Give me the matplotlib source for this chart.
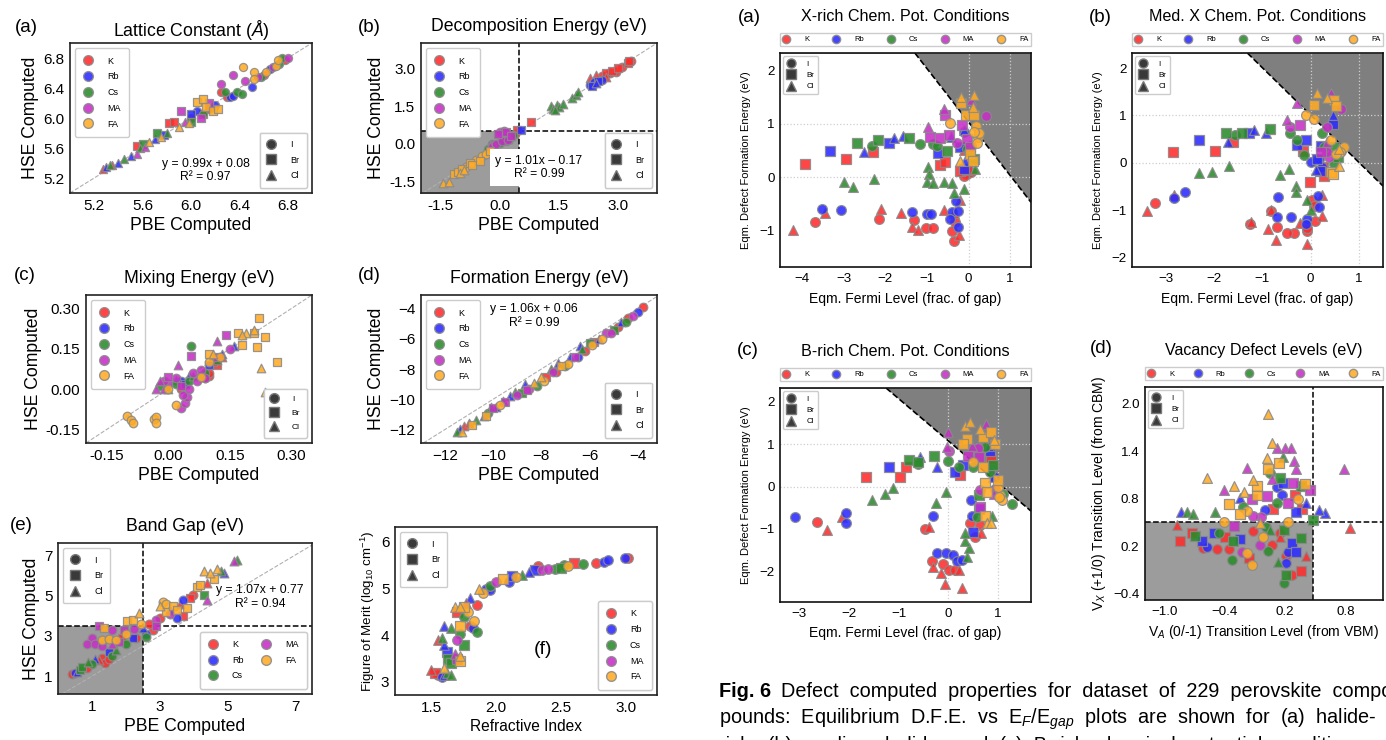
import matplotlib
matplotlib.use('Agg')
import matplotlib.pyplot as plt
from matplotlib.lines import Line2D

plt.rcParams['font.family'] = ['Liberation Sans', 'DejaVu Sans']
plt.rcParams['mathtext.fontset'] = 'custom'
plt.rcParams['mathtext.rm'] = 'Liberation Sans'
plt.rcParams['mathtext.it'] = 'Liberation Sans:italic'
plt.rcParams['mathtext.bf'] = 'Liberation Sans:bold'
plt.rcParams['axes.unicode_minus'] = True

# ---------------------------------------------------------------- data
cations = ['K', 'Rb', 'Cs', 'MA', 'FA']
halides = ['I', 'Br', 'Cl']

# (PBE, HSE, cation, halide)
lattice = [
    (5.27, 5.32, 'K', 'Cl'), (5.30, 5.35, 'Rb', 'Cl'), (5.33, 5.38, 'Cs', 'Cl'), (5.35, 5.38, 'K', 'Cl'),
    (5.40, 5.40, 'Rb', 'Cl'), (5.45, 5.45, 'Cs', 'Cl'), (5.50, 5.50, 'Rb', 'Cl'), (5.55, 5.52, 'MA', 'Cl'),
    (5.58, 5.60, 'Cs', 'Cl'), (5.62, 5.62, 'MA', 'Cl'), (5.65, 5.68, 'FA', 'Cl'), (5.70, 5.72, 'Rb', 'Cl'),
    (5.75, 5.75, 'FA', 'Cl'), (5.80, 5.80, 'Cs', 'Cl'), (5.90, 5.88, 'FA', 'Cl'), (5.95, 5.95, 'MA', 'Cl'),
    (5.98, 5.93, 'FA', 'Cl'),
    (5.55, 5.63, 'K', 'Br'), (5.60, 5.65, 'Cs', 'Br'), (5.72, 5.80, 'Cs', 'Br'), (5.78, 5.78, 'Rb', 'Br'),
    (5.82, 5.93, 'K', 'Br'), (5.86, 5.95, 'K', 'Br'), (5.92, 6.10, 'MA', 'Br'), (6.00, 6.05, 'Rb', 'Br'),
    (6.05, 6.22, 'FA', 'Br'), (6.10, 6.25, 'FA', 'Br'), (6.12, 6.15, 'FA', 'Br'), (6.18, 6.10, 'FA', 'Br'),
    (6.22, 6.12, 'FA', 'Br'), (6.10, 6.05, 'K', 'Br'), (6.15, 6.20, 'MA', 'Br'), (6.00, 5.95, 'Cs', 'Br'),
    (6.08, 6.00, 'MA', 'Br'),
    (6.00, 6.00, 'K', 'I'), (6.05, 6.10, 'Rb', 'I'), (6.10, 6.05, 'Cs', 'I'), (6.15, 6.12, 'K', 'I'),
    (6.20, 6.18, 'Rb', 'I'), (6.25, 6.35, 'K', 'I'), (6.25, 6.45, 'MA', 'I'), (6.28, 6.35, 'Cs', 'I'),
    (6.32, 6.28, 'Rb', 'I'), (6.35, 6.58, 'MA', 'I'), (6.38, 6.35, 'Cs', 'I'), (6.42, 6.32, 'Cs', 'I'),
    (6.43, 6.68, 'FA', 'I'), (6.45, 6.50, 'MA', 'I'), (6.50, 6.42, 'Rb', 'I'), (6.52, 6.62, 'FA', 'I'),
    (6.52, 6.52, 'FA', 'I'), (6.55, 6.55, 'MA', 'I'), (6.58, 6.55, 'Cs', 'I'), (6.62, 6.62, 'FA', 'I'),
    (6.65, 6.65, 'Rb', 'I'), (6.68, 6.68, 'MA', 'I'), (6.70, 6.70, 'FA', 'I'), (6.73, 6.72, 'Cs', 'I'),
    (6.75, 6.80, 'Cs', 'I'), (6.78, 6.78, 'K', 'I'), (6.80, 6.80, 'MA', 'I'), (6.72, 6.78, 'FA', 'I'),
    (6.60, 6.58, 'K', 'I'), (6.35, 6.30, 'Rb', 'I'), (6.30, 6.28, 'K', 'I'),
]

decomp = [
    (-1.45, -1.55, 'FA', 'Cl'), (-1.30, -1.50, 'FA', 'Cl'), (-1.15, -1.20, 'FA', 'Br'), (-1.05, -1.10, 'FA', 'Br'),
    (-0.95, -1.00, 'FA', 'Br'), (-0.85, -0.90, 'FA', 'I'), (-0.75, -0.75, 'FA', 'Br'), (-0.70, -0.85, 'FA', 'Br'),
    (-0.60, -0.65, 'FA', 'I'), (-0.50, -0.70, 'FA', 'Br'), (-0.45, -0.50, 'FA', 'I'), (-0.35, -0.40, 'FA', 'I'),
    (-1.00, -1.15, 'FA', 'Cl'), (-0.90, -1.05, 'FA', 'Cl'), (-0.25, -0.30, 'FA', 'Br'),
    (-0.20, -0.10, 'MA', 'I'), (-0.10, 0.00, 'MA', 'I'), (0.00, 0.45, 'MA', 'I'), (0.10, 0.50, 'MA', 'I'),
    (0.15, 0.45, 'MA', 'Br'), (-0.05, 0.40, 'MA', 'Br'), (0.05, 0.10, 'MA', 'I'), (-0.25, -0.10, 'MA', 'Cl'),
    (0.20, 0.15, 'MA', 'I'), (0.30, 0.30, 'MA', 'Br'),
    (-0.30, -0.20, 'Cs', 'I'), (-0.15, -0.05, 'Cs', 'Br'), (0.00, 0.05, 'Cs', 'I'), (0.20, 0.20, 'Cs', 'Cl'),
    (0.35, 0.35, 'Cs', 'I'), (1.30, 1.50, 'Cs', 'Cl'), (1.35, 1.40, 'Cs', 'Cl'), (1.45, 1.55, 'Cs', 'Cl'),
    (1.50, 1.45, 'Cs', 'Cl'), (1.60, 1.60, 'Cs', 'Cl'), (1.85, 1.80, 'Cs', 'Cl'), (1.95, 1.95, 'Cs', 'Cl'),
    (2.00, 2.05, 'Cs', 'Cl'), (1.40, 1.35, 'Cs', 'Cl'),
    (-0.20, 0.00, 'Rb', 'I'), (0.10, 0.10, 'Rb', 'Br'), (0.25, 0.25, 'Rb', 'I'), (0.55, 0.55, 'Rb', 'Br'),
    (2.30, 2.35, 'Rb', 'I'), (2.40, 2.45, 'Rb', 'I'), (2.50, 2.50, 'Rb', 'Br'), (2.60, 2.55, 'Rb', 'I'),
    (2.35, 2.30, 'Rb', 'Br'), (2.45, 2.40, 'Rb', 'Cl'),
    (0.40, 0.40, 'K', 'I'), (0.45, 0.55, 'K', 'Br'), (0.80, 0.85, 'K', 'Br'), (2.30, 2.60, 'K', 'Cl'),
    (2.45, 2.75, 'K', 'Cl'), (2.60, 2.70, 'K', 'I'), (2.70, 2.80, 'K', 'Br'), (2.80, 2.80, 'K', 'I'),
    (2.85, 2.90, 'K', 'Br'), (2.95, 2.85, 'K', 'I'), (3.00, 3.00, 'K', 'Br'), (3.10, 3.05, 'K', 'I'),
    (3.25, 3.20, 'K', 'Br'), (3.35, 3.30, 'K', 'I'), (3.30, 3.30, 'K', 'Br'), (2.70, 2.65, 'K', 'Cl'),
]

mixing = [
    (-0.100, -0.100, 'FA', 'I'), (-0.090, -0.115, 'FA', 'I'), (-0.085, -0.125, 'FA', 'I'), (-0.035, -0.110, 'FA', 'I'),
    (-0.030, -0.105, 'FA', 'I'), (-0.030, -0.125, 'FA', 'I'), (0.020, -0.060, 'FA', 'I'), (0.000, 0.000, 'FA', 'I'),
    (0.080, 0.045, 'FA', 'I'), (0.125, 0.120, 'FA', 'I'), (0.100, 0.100, 'FA', 'I'),
    (0.170, 0.210, 'FA', 'Br'), (0.210, 0.210, 'FA', 'Br'), (0.220, 0.265, 'FA', 'Br'), (0.235, 0.195, 'FA', 'Br'),
    (0.215, 0.155, 'FA', 'Br'), (0.180, 0.165, 'FA', 'Br'), (0.265, 0.100, 'FA', 'Br'), (0.100, 0.130, 'FA', 'Br'),
    (0.225, 0.080, 'FA', 'Cl'), (0.235, -0.010, 'FA', 'Cl'), (0.190, 0.210, 'FA', 'Cl'), (0.180, 0.200, 'FA', 'Cl'),
    (0.210, 0.220, 'FA', 'Cl'), (0.110, 0.130, 'FA', 'Cl'),
    (0.030, -0.070, 'MA', 'I'), (0.040, -0.050, 'MA', 'I'), (0.045, -0.030, 'MA', 'I'), (0.035, -0.020, 'MA', 'I'),
    (0.050, 0.000, 'MA', 'I'), (0.070, 0.030, 'MA', 'I'), (0.150, 0.150, 'MA', 'I'), (0.020, 0.040, 'MA', 'I'),
    (0.060, 0.060, 'MA', 'I'), (0.080, 0.070, 'MA', 'I'), (0.000, 0.020, 'MA', 'I'), (-0.010, 0.030, 'MA', 'I'),
    (0.090, 0.040, 'MA', 'I'),
    (0.055, 0.125, 'MA', 'Br'), (0.140, 0.200, 'MA', 'Br'), (0.000, 0.045, 'MA', 'Br'), (0.030, 0.010, 'MA', 'Br'),
    (0.120, 0.120, 'MA', 'Br'),
    (-0.030, 0.000, 'MA', 'Cl'), (-0.020, 0.030, 'MA', 'Cl'), (0.025, 0.090, 'MA', 'Cl'), (0.120, 0.180, 'MA', 'Cl'),
    (-0.010, 0.000, 'MA', 'Cl'),
    (0.055, 0.160, 'Cs', 'I'), (0.020, 0.020, 'Cs', 'I'), (0.050, 0.030, 'Cs', 'I'), (0.090, 0.060, 'Cs', 'I'),
    (-0.020, 0.010, 'Cs', 'I'), (0.080, 0.050, 'Cs', 'I'), (0.000, 0.000, 'Cs', 'Cl'), (0.060, 0.050, 'Cs', 'Cl'),
    (0.120, 0.110, 'Cs', 'Cl'),
    (0.030, 0.030, 'Rb', 'I'), (0.040, 0.020, 'Rb', 'Br'), (0.020, 0.035, 'Rb', 'Cl'), (0.050, 0.050, 'Rb', 'Cl'),
    (0.100, 0.090, 'Rb', 'Br'), (0.160, 0.160, 'Rb', 'Cl'), (0.130, 0.130, 'Rb', 'Cl'),
    (0.100, 0.050, 'K', 'I'), (0.090, 0.040, 'K', 'I'), (0.120, 0.090, 'K', 'Br'), (0.110, 0.100, 'K', 'Br'),
    (0.030, 0.000, 'K', 'I'), (0.040, 0.020, 'K', 'Cl'), (0.130, 0.120, 'K', 'Cl'), (0.100, 0.060, 'K', 'I'),
]

formation = [
    (-11.5, -12.2, 'Cs', 'Cl'), (-11.4, -12.0, 'Rb', 'Cl'), (-11.3, -12.2, 'FA', 'Cl'), (-11.2, -11.8, 'K', 'Cl'),
    (-11.0, -11.6, 'K', 'Cl'), (-10.9, -11.7, 'FA', 'Br'), (-10.7, -11.4, 'Cs', 'Cl'), (-10.4, -11.1, 'Rb', 'Cl'),
    (-10.3, -11.1, 'FA', 'Br'), (-10.2, -10.9, 'Cs', 'I'), (-10.1, -10.5, 'Cs', 'Cl'), (-10.0, -10.6, 'MA', 'Br'),
    (-9.9, -10.5, 'Rb', 'Cl'), (-9.7, -10.4, 'FA', 'I'), (-9.5, -10.2, 'MA', 'Br'), (-9.3, -9.8, 'Rb', 'Cl'),
    (-9.1, -9.5, 'Cs', 'Cl'), (-9.0, -9.7, 'MA', 'I'), (-8.8, -9.6, 'Cs', 'Br'), (-8.7, -9.0, 'Rb', 'Cl'),
    (-8.6, -9.4, 'MA', 'Br'), (-8.5, -9.3, 'MA', 'I'), (-8.3, -8.9, 'FA', 'Cl'), (-8.2, -9.1, 'Cs', 'I'),
    (-8.0, -8.5, 'FA', 'Cl'), (-7.9, -8.8, 'FA', 'I'), (-7.8, -8.5, 'K', 'Br'), (-7.6, -8.0, 'Cs', 'Cl'),
    (-7.5, -8.2, 'MA', 'I'), (-7.4, -8.2, 'K', 'I'), (-7.3, -7.6, 'Rb', 'Cl'), (-7.2, -7.8, 'FA', 'Br'),
    (-7.0, -7.8, 'Cs', 'I'), (-6.9, -7.7, 'FA', 'I'), (-6.8, -7.2, 'Rb', 'Cl'), (-6.6, -7.2, 'MA', 'Br'),
    (-6.5, -7.2, 'Rb', 'I'), (-6.3, -6.7, 'Cs', 'Cl'), (-6.2, -6.8, 'K', 'I'), (-6.0, -6.3, 'Cs', 'Br'),
    (-5.9, -6.4, 'FA', 'I'), (-5.8, -6.2, 'K', 'Br'), (-5.6, -6.0, 'Rb', 'Cl'), (-5.5, -6.0, 'FA', 'I'),
    (-5.3, -5.6, 'MA', 'I'), (-5.1, -5.6, 'MA', 'I'), (-5.0, -5.4, 'Cs', 'Br'), (-4.8, -5.2, 'K', 'I'),
    (-4.7, -4.9, 'Rb', 'Cl'), (-4.5, -4.9, 'Cs', 'I'), (-4.4, -4.6, 'K', 'I'), (-4.2, -4.5, 'MA', 'I'),
    (-4.0, -4.2, 'Rb', 'I'), (-3.8, -3.9, 'K', 'I'), (-6.4, -6.5, 'Rb', 'Cl'), (-9.6, -10.1, 'Cs', 'Cl'),
]

bandgap = [
    (0.40, 1.10, 'K', 'I'), (0.50, 1.15, 'Rb', 'I'), (0.55, 1.20, 'Rb', 'Cl'), (0.65, 1.30, 'Cs', 'Br'),
    (0.70, 1.45, 'Cs', 'Br'), (0.85, 1.40, 'K', 'I'), (0.90, 1.70, 'Cs', 'Cl'), (1.00, 1.60, 'Cs', 'I'),
    (1.10, 1.85, 'Rb', 'Cl'), (1.20, 1.80, 'K', 'Cl'), (1.30, 1.90, 'K', 'I'), (1.40, 1.65, 'K', 'I'),
    (1.50, 1.85, 'K', 'I'), (1.50, 2.20, 'Rb', 'Br'), (1.60, 2.00, 'Cs', 'I'), (1.70, 2.30, 'Cs', 'Cl'),
    (1.80, 2.70, 'MA', 'Br'), (1.60, 2.60, 'MA', 'Cl'), (1.90, 2.90, 'K', 'Br'), (2.00, 2.60, 'Cs', 'I'),
    (2.20, 2.90, 'Rb', 'Br'), (2.00, 3.10, 'FA', 'I'), (1.00, 2.90, 'MA', 'I'), (0.85, 2.60, 'MA', 'I'),
    (1.10, 2.60, 'MA', 'I'), (1.30, 2.50, 'MA', 'I'), (1.30, 2.80, 'FA', 'I'), (1.50, 2.85, 'FA', 'I'),
    (1.70, 2.80, 'FA', 'I'), (1.20, 3.50, 'MA', 'Br'), (1.35, 3.40, 'FA', 'Br'), (1.60, 3.30, 'MA', 'I'),
    (1.95, 3.30, 'MA', 'Br'), (2.05, 3.75, 'FA', 'Br'), (2.20, 3.80, 'FA', 'Br'), (2.25, 3.35, 'MA', 'I'),
    (2.45, 3.60, 'FA', 'I'), (2.50, 3.40, 'Rb', 'Cl'), (2.40, 4.15, 'FA', 'Cl'), (2.60, 3.10, 'Rb', 'I'),
    (2.60, 2.95, 'Cs', 'I'), (2.80, 3.30, 'K', 'I'), (2.90, 3.50, 'MA', 'Br'), (3.00, 3.90, 'K', 'I'),
    (3.00, 4.50, 'FA', 'Cl'), (3.10, 4.70, 'FA', 'I'), (3.20, 4.20, 'FA', 'Br'), (3.20, 4.60, 'FA', 'I'),
    (3.30, 4.10, 'MA', 'I'), (3.40, 4.50, 'FA', 'Br'), (3.50, 4.30, 'FA', 'Br'), (3.50, 3.90, 'Rb', 'I'),
    (3.60, 4.60, 'K', 'Cl'), (3.70, 4.80, 'Rb', 'I'), (3.80, 4.40, 'FA', 'Br'), (3.90, 4.90, 'K', 'Br'),
    (4.00, 5.00, 'K', 'I'), (4.10, 5.40, 'FA', 'Br'), (4.20, 5.50, 'FA', 'Br'), (4.30, 5.00, 'Cs', 'Br'),
    (4.40, 5.60, 'K', 'Cl'), (4.40, 4.80, 'MA', 'Cl'), (4.30, 6.20, 'FA', 'Cl'), (4.50, 6.10, 'FA', 'Cl'),
    (4.60, 5.80, 'FA', 'Br'), (4.80, 6.20, 'Cs', 'Cl'), (4.90, 6.10, 'Rb', 'Cl'), (5.20, 6.70, 'MA', 'Cl'),
    (5.30, 6.75, 'Cs', 'Cl'), (4.70, 6.30, 'FA', 'Cl'), (3.70, 4.00, 'K', 'Br'), (2.70, 3.60, 'K', 'I'),
    (2.30, 2.90, 'K', 'I'), (3.30, 4.30, 'Rb', 'Cl'), (2.90, 3.80, 'MA', 'I'),
]

# (refractive index, figure of merit)
refractive = [
    (1.50, 3.25, 'K', 'Cl'), (1.53, 3.20, 'K', 'Br'), (1.55, 3.15, 'K', 'I'), (1.58, 3.10, 'Rb', 'I'),
    (1.60, 3.15, 'Rb', 'Cl'), (1.62, 3.20, 'Cs', 'Cl'), (1.65, 3.15, 'Cs', 'Cl'), (1.60, 3.30, 'FA', 'Cl'),
    (1.55, 3.90, 'K', 'Cl'), (1.58, 3.95, 'Cs', 'Cl'), (1.60, 3.80, 'Rb', 'Cl'), (1.62, 3.65, 'Rb', 'Br'),
    (1.63, 3.50, 'Cs', 'Br'), (1.65, 3.40, 'Cs', 'Br'), (1.68, 3.60, 'MA', 'Cl'), (1.70, 3.50, 'MA', 'Br'),
    (1.72, 3.45, 'FA', 'Br'), (1.72, 3.55, 'FA', 'Cl'), (1.70, 3.90, 'MA', 'I'), (1.72, 4.02, 'Cs', 'I'),
    (1.75, 3.80, 'Cs', 'Br'), (1.60, 4.20, 'Rb', 'Cl'), (1.65, 4.15, 'Cs', 'Cl'), (1.68, 4.60, 'FA', 'Cl'),
    (1.72, 4.60, 'FA', 'Cl'), (1.70, 4.50, 'K', 'Br'), (1.75, 4.40, 'Cs', 'I'), (1.75, 4.60, 'FA', 'Br'),
    (1.78, 4.50, 'FA', 'I'), (1.72, 4.20, 'FA', 'Br'), (1.80, 4.20, 'K', 'I'), (1.82, 4.15, 'Rb', 'I'),
    (1.83, 4.30, 'FA', 'I'), (1.85, 4.08, 'Cs', 'I'), (1.80, 4.80, 'Rb', 'Cl'), (1.85, 4.65, 'K', 'I'),
    (1.87, 5.00, 'FA', 'Cl'), (1.90, 4.90, 'FA', 'I'), (1.92, 5.00, 'Rb', 'I'), (1.95, 5.05, 'Cs', 'I'),
    (2.00, 5.15, 'MA', 'I'), (2.05, 5.20, 'FA', 'Br'), (2.10, 5.15, 'Rb', 'I'), (2.12, 5.28, 'Rb', 'Br'),
    (2.15, 5.25, 'FA', 'I'), (2.20, 5.30, 'Cs', 'Cl'), (2.25, 5.35, 'Rb', 'Cl'), (2.30, 5.40, 'Rb', 'Br'),
    (2.32, 5.48, 'K', 'I'), (2.35, 5.40, 'MA', 'I'), (2.40, 5.42, 'MA', 'I'), (2.45, 5.42, 'Cs', 'I'),
    (2.50, 5.45, 'Cs', 'Br'), (2.52, 5.50, 'Cs', 'I'), (2.60, 5.55, 'K', 'Br'), (2.67, 5.52, 'Cs', 'I'),
    (2.77, 5.55, 'K', 'I'), (2.83, 5.57, 'Rb', 'I'), (2.86, 5.62, 'Rb', 'I'), (2.99, 5.65, 'Rb', 'I'),
    (3.02, 5.66, 'K', 'I'), (2.55, 5.48, 'FA', 'I'), (1.95, 4.98, 'Rb', 'I'), (1.77, 4.70, 'MA', 'Cl'),
]

# (Fermi level / gap, defect formation energy)
xrich = [
    (-3.93, 0.24, 'K', 'Br'), (-2.94, 0.33, 'K', 'Br'), (-3.32, 0.49, 'Rb', 'Br'), (-2.68, 0.64, 'Cs', 'Br'),
    (-2.33, 0.58, 'Cs', 'I'), (-2.30, 0.47, 'K', 'Br'), (-2.52, 0.47, 'Rb', 'Cl'), (-2.17, 0.69, 'Cs', 'Br'),
    (-1.92, 0.64, 'Rb', 'Br'), (-1.79, 0.73, 'Rb', 'Cl'), (-1.57, 0.76, 'Rb', 'Cl'), (-1.43, 0.73, 'Cs', 'Br'),
    (-1.17, 0.61, 'Cs', 'I'), (-0.98, 0.94, 'MA', 'Cl'), (-0.93, 0.75, 'MA', 'Br'), (-0.85, 0.61, 'Cs', 'I'),
    (-0.75, 0.58, 'Cs', 'I'), (-0.69, 0.73, 'MA', 'Br'), (-0.73, 0.45, 'Rb', 'Br'), (-0.52, 0.49, 'Cs', 'Br'),
    (-0.58, 1.28, 'MA', 'Cl'), (-0.56, 1.17, 'MA', 'Br'), (-0.45, 1.02, 'FA', 'I'), (-0.48, 0.78, 'MA', 'Br'),
    (-0.42, 0.75, 'Rb', 'Cl'), (-0.69, 0.22, 'K', 'Br'), (-0.57, 0.29, 'K', 'Br'), (-0.98, 0.19, 'Cs', 'Cl'),
    (-0.95, 0.05, 'Cs', 'Cl'), (-0.99, -0.09, 'Cs', 'Cl'), (-0.85, -0.11, 'Cs', 'Cl'), (-0.60, -0.09, 'Cs', 'Cl'),
    (-0.40, -0.11, 'Cs', 'Cl'), (-0.36, -0.30, 'Cs', 'Cl'), (-0.10, -0.22, 'Cs', 'Cl'), (-2.26, -0.04, 'Cs', 'Cl'),
    (-2.99, -0.09, 'Cs', 'Cl'), (-2.78, -0.18, 'Cs', 'Cl'), (-3.53, -0.59, 'Rb', 'I'), (-3.45, -0.67, 'K', 'Cl'),
    (-3.69, -0.83, 'K', 'I'), (-4.21, -0.99, 'K', 'Cl'), (-3.06, -0.61, 'Rb', 'I'), (-2.10, -0.59, 'K', 'Cl'),
    (-2.14, -0.79, 'K', 'I'), (-1.63, -0.67, 'K', 'Cl'), (-1.35, -0.66, 'Rb', 'I'), (-1.31, -0.81, 'K', 'I'),
    (-1.37, -0.93, 'K', 'Cl'), (-1.21, -0.99, 'K', 'Cl'), (-1.03, -0.95, 'K', 'I'), (-1.01, -0.69, 'Rb', 'I'),
    (-0.90, -0.68, 'Rb', 'I'), (-0.85, -0.95, 'K', 'I'), (-0.60, -0.61, 'K', 'Cl'), (-0.40, -0.66, 'Rb', 'I'),
    (-0.36, -0.67, 'K', 'Cl'), (-0.25, -0.64, 'Rb', 'I'), (-0.44, -0.78, 'Rb', 'I'), (-0.32, -0.84, 'K', 'I'),
    (-0.40, -1.00, 'K', 'I'), (-0.36, -1.19, 'K', 'I'), (-0.24, -1.09, 'K', 'Cl'), (-0.26, -0.93, 'Rb', 'I'),
    (-0.29, -0.44, 'Rb', 'I'), (-0.21, -0.42, 'K', 'Cl'),
    (-0.17, 1.38, 'FA', 'Br'), (-0.17, 1.50, 'FA', 'Cl'), (-0.06, 1.17, 'FA', 'Br'), (0.06, 1.44, 'MA', 'Cl'),
    (0.10, 1.31, 'FA', 'Cl'), (0.14, 1.17, 'FA', 'Br'), (0.14, 1.53, 'FA', 'Cl'), (0.41, 1.14, 'MA', 'I'),
    (-0.12, 0.88, 'Rb', 'Cl'), (0.18, 0.95, 'FA', 'I'), (0.22, 0.75, 'FA', 'I'), (0.26, 0.83, 'FA', 'I'),
    (0.20, 0.63, 'FA', 'I'), (-0.16, 0.97, 'MA', 'Br'), (-0.04, 0.72, 'MA', 'Br'), (0.06, 0.59, 'Cs', 'I'),
    (-0.20, 0.56, 'Rb', 'Br'), (-0.12, 0.50, 'K', 'Cl'), (0.04, 0.44, 'FA', 'Br'), (0.12, 0.34, 'Cs', 'Br'),
    (0.10, 0.31, 'FA', 'Br'), (0.16, 0.16, 'Cs', 'Cl'), (-0.20, 0.11, 'K', 'Br'), (-0.04, 0.13, 'K', 'Br'),
    (-0.10, 0.16, 'Rb', 'Br'), (-0.04, 0.06, 'K', 'I'), (0.06, 0.09, 'K', 'I'), (-0.12, 0.84, 'Rb', 'I'),
    (-0.04, 0.53, 'Cs', 'I'), (-0.28, 0.63, 'MA', 'I'), (-0.08, 0.31, 'Rb', 'Cl'), (-0.20, 0.31, 'FA', 'Cl'),
    (0.04, 0.56, 'MA', 'Br'), (-0.12, 0.03, 'K', 'I'), (0.02, 0.47, 'Cs', 'I'), (0.12, 0.84, 'FA', 'I'),
]

medx = [
    (-3.38, -1.01, 'K', 'Cl'), (-3.23, -0.85, 'K', 'I'), (-2.83, -0.74, 'Rb', 'I'), (-2.83, -0.67, 'K', 'Cl'),
    (-2.60, -0.62, 'Rb', 'I'), (-2.85, 0.23, 'K', 'Br'), (-2.31, 0.48, 'Rb', 'Br'), (-1.98, 0.25, 'K', 'Br'),
    (-2.31, -0.22, 'Cs', 'Cl'), (-2.05, -0.20, 'Cs', 'Cl'), (-1.70, -0.06, 'Cs', 'Cl'), (-1.76, 0.63, 'Cs', 'Br'),
    (-1.60, 0.45, 'K', 'Br'), (-1.56, 0.58, 'Cs', 'I'), (-1.72, 0.44, 'Rb', 'Cl'), (-1.42, 0.62, 'Cs', 'Br'),
    (-1.27, 0.63, 'Rb', 'Br'), (-1.18, 0.69, 'Rb', 'Cl'), (-0.92, 0.62, 'Rb', 'Cl'), (-0.85, 0.72, 'Cs', 'Br'),
    (-0.49, 0.91, 'MA', 'Cl'), (-0.42, 0.76, 'MA', 'I'), (-0.21, 0.79, 'MA', 'Br'), (-0.42, 0.62, 'Cs', 'I'),
    (-0.28, 0.49, 'Cs', 'I'), (-0.29, 0.37, 'Rb', 'Br'), (-0.10, 0.49, 'Rb', 'Br'), (-0.15, 0.26, 'K', 'Br'),
    (-0.14, 0.16, 'Cs', 'I'), (0.00, 0.01, 'Rb', 'I'), (0.13, 0.09, 'Rb', 'Br'), (-0.01, -0.41, 'K', 'Br'),
    (-0.63, -0.25, 'Cs', 'Cl'), (-0.45, -0.13, 'Cs', 'Cl'), (-0.31, -0.48, 'Cs', 'Cl'), (-0.31, -0.62, 'Cs', 'Cl'),
    (-0.08, -0.78, 'Cs', 'Cl'), (0.01, -1.00, 'Cs', 'Cl'), (-0.67, -0.73, 'Rb', 'I'), (0.03, -0.79, 'K', 'I'),
    (0.07, -0.91, 'K', 'I'), (0.15, -0.70, 'Rb', 'I'), (0.17, -0.93, 'Rb', 'I'), (0.24, -0.67, 'K', 'Cl'),
    (0.10, -1.23, 'K', 'I'), (0.24, -1.12, 'K', 'Cl'), (-0.08, -1.19, 'Rb', 'I'), (-0.10, -1.30, 'Rb', 'I'),
    (-0.07, -1.44, 'K', 'I'), (-0.07, -1.37, 'K', 'I'), (-0.07, -1.72, 'K', 'Cl'), (-0.22, -1.28, 'K', 'Cl'),
    (-0.40, -1.14, 'Rb', 'I'), (-0.35, -1.48, 'K', 'I'), (-0.49, -1.48, 'K', 'I'), (-0.69, -1.35, 'K', 'I'),
    (-0.71, -1.62, 'K', 'Cl'), (-0.88, -1.39, 'K', 'Cl'), (-0.69, -1.14, 'Rb', 'I'), (-0.83, -1.01, 'K', 'I'),
    (-0.83, -1.00, 'K', 'Cl'), (-1.25, -1.30, 'K', 'I'), (-1.24, -1.26, 'K', 'Cl'),
    (0.14, 1.47, 'FA', 'Cl'), (0.33, 1.36, 'FA', 'Cl'), (0.08, 1.22, 'FA', 'Br'), (0.42, 1.47, 'MA', 'Cl'),
    (0.49, 1.33, 'FA', 'Br'), (0.52, 1.20, 'FA', 'Br'), (0.62, 1.13, 'MA', 'I'), (-0.10, 1.01, 'FA', 'I'),
    (0.07, 0.92, 'FA', 'I'), (-0.28, 1.26, 'MA', 'Cl'), (0.47, 1.01, 'Rb', 'Cl'), (0.47, 0.83, 'Rb', 'Br'),
    (0.24, 0.62, 'Cs', 'I'), (0.35, 0.76, 'MA', 'I'), (0.42, 0.48, 'FA', 'I'), (0.62, 0.26, 'FA', 'I'),
    (0.69, 0.33, 'FA', 'I'), (0.60, 0.23, 'FA', 'I'), (0.33, 0.44, 'MA', 'Cl'), (0.21, 0.35, 'Rb', 'Br'),
    (0.28, 0.33, 'Cs', 'I'), (0.38, 0.12, 'MA', 'I'), (0.43, -0.20, 'FA', 'Br'), (0.47, -0.23, 'FA', 'Br'),
    (0.49, -0.02, 'Cs', 'I'), (0.57, 0.12, 'Cs', 'Br'), (0.59, -0.06, 'FA', 'Cl'), (0.19, -0.18, 'Rb', 'Br'),
    (0.12, -0.16, 'Rb', 'Cl'), (0.26, -0.09, 'K', 'Br'), (0.28, -0.27, 'K', 'Br'), (0.17, 0.09, 'Rb', 'I'),
    (0.35, 0.23, 'MA', 'I'), (0.52, 0.19, 'FA', 'I'), (0.49, 0.33, 'Cs', 'Br'), (0.24, -0.09, 'Rb', 'I'),
    (0.59, 0.30, 'FA', 'Cl'), (0.21, 0.23, 'MA', 'Br'),
]

brich = [
    (-3.07, -0.71, 'Rb', 'I'), (-2.63, -0.85, 'K', 'I'), (-2.43, -1.02, 'K', 'Cl'), (-2.13, -0.71, 'K', 'Cl'),
    (-2.06, -0.62, 'Rb', 'I'), (-2.05, -0.87, 'Rb', 'I'), (-1.66, 0.22, 'K', 'Br'), (-1.19, 0.47, 'Rb', 'Br'),
    (-0.97, 0.22, 'K', 'Br'), (-0.84, 0.47, 'K', 'Br'), (-0.79, 0.63, 'Cs', 'Br'), (-0.60, 0.54, 'Cs', 'I'),
    (-0.60, 0.57, 'Cs', 'Br'), (-0.57, 0.69, 'Rb', 'Cl'), (-0.28, 0.73, 'Cs', 'Br'), (-0.23, 0.47, 'Rb', 'Cl'),
    (-1.54, -0.31, 'Cs', 'Cl'), (-1.28, -0.17, 'Cs', 'Cl'), (-1.12, -0.03, 'Cs', 'Cl'), (-0.05, -0.12, 'Cs', 'Cl'),
    (-0.25, -0.39, 'Cs', 'Cl'), (-0.30, -0.70, 'Rb', 'I'), (-0.47, -1.00, 'K', 'I'), (-0.38, -0.96, 'K', 'Cl'),
    (0.00, 1.28, 'MA', 'Cl'), (-0.02, 0.93, 'MA', 'Cl'), (0.02, 0.83, 'MA', 'I'), (0.00, 0.61, 'Cs', 'I'),
    (0.13, 0.34, 'Rb', 'Br'), (0.23, 0.28, 'K', 'Br'), (0.30, 0.50, 'Rb', 'Br'), (0.22, 0.46, 'Cs', 'I'),
    (-0.23, -1.57, 'Rb', 'I'), (-0.32, -1.76, 'K', 'I'), (-0.30, -1.91, 'K', 'Cl'), (-0.10, -1.83, 'K', 'I'),
    (-0.05, -1.57, 'Rb', 'I'), (0.10, -1.61, 'Rb', 'I'), (0.17, -1.75, 'Rb', 'I'), (0.02, -1.97, 'K', 'I'),
    (0.13, -1.97, 'K', 'I'), (0.22, -1.97, 'K', 'Cl'), (-0.15, -2.04, 'K', 'Cl'), (-0.07, -2.30, 'K', 'Cl'),
    (0.27, -2.40, 'K', 'Cl'), (0.27, -1.73, 'Rb', 'I'), (0.37, -1.67, 'Cs', 'Cl'), (0.42, -1.45, 'Cs', 'Cl'),
    (0.34, -1.28, 'Cs', 'Cl'), (0.34, -1.10, 'Cs', 'Cl'), (0.47, -0.69, 'Rb', 'I'), (0.44, -0.87, 'K', 'I'),
    (0.50, -1.08, 'Rb', 'Br'), (0.54, -1.20, 'K', 'I'), (0.64, -0.90, 'K', 'I'), (0.66, -1.10, 'K', 'Cl'),
    (0.57, -0.72, 'Cs', 'I'), (0.45, -0.33, 'Rb', 'I'), (0.62, -0.53, 'Rb', 'Br'), (0.64, -0.49, 'MA', 'Br'),
    (0.74, -0.69, 'FA', 'Br'), (0.77, -0.87, 'FA', 'Cl'), (0.87, -0.69, 'Cs', 'Cl'), (0.86, -0.87, 'FA', 'Cl'),
    (0.62, -0.21, 'Cs', 'Br'), (0.64, -0.08, 'MA', 'I'), (0.74, 0.08, 'FA', 'Br'), (0.77, -0.13, 'FA', 'Br'),
    (0.91, -0.17, 'MA', 'Cl'), (1.04, -0.21, 'FA', 'I'), (1.07, -0.33, 'FA', 'I'), (1.28, -0.41, 'Cs', 'I'),
    (0.99, 0.16, 'FA', 'Br'), (0.89, 0.22, 'Rb', 'Cl'), (0.94, -0.06, 'MA', 'I'), (0.99, -0.02, 'FA', 'I'),
    (1.09, -0.17, 'Cs', 'I'), (0.34, 1.44, 'FA', 'Cl'), (0.44, 1.52, 'FA', 'Cl'), (0.75, 1.48, 'MA', 'Cl'),
    (0.64, 1.36, 'FA', 'Cl'), (0.37, 1.13, 'FA', 'Br'), (0.29, 1.01, 'FA', 'Br'), (0.47, 0.97, 'MA', 'Cl'),
    (0.69, 1.17, 'FA', 'Br'), (0.85, 1.28, 'FA', 'Br'), (0.91, 1.09, 'FA', 'Cl'), (0.94, 1.01, 'FA', 'Br'),
    (0.60, 0.91, 'MA', 'I'), (0.81, 0.97, 'Rb', 'Cl'), (0.83, 0.83, 'Rb', 'Br'), (0.74, 0.94, 'Cs', 'I'),
    (0.85, 0.65, 'K', 'Br'), (0.89, 0.50, 'Cs', 'Br'), (0.62, 0.69, 'MA', 'Br'), (0.83, 0.34, 'Cs', 'I'),
    (0.50, 0.57, 'FA', 'I'), (0.40, 0.73, 'MA', 'Br'), (0.50, 0.47, 'Cs', 'I'), (0.93, 0.22, 'Rb', 'I'),
    (0.70, 0.46, 'FA', 'Br'), (1.01, -0.25, 'FA', 'I'),
]

# (V_A (0/-1) level, V_X (+1/0) level)
vacancy = [
    (0.03, 1.87, 'FA', 'Cl'), (0.78, 1.17, 'MA', 'Cl'), (0.84, 0.43, 'K', 'Cl'), (-0.58, 1.06, 'FA', 'Cl'),
    (-0.41, 0.91, 'MA', 'Cl'), (-0.83, 0.63, 'Rb', 'Cl'), (-0.77, 0.63, 'Cs', 'Cl'), (-0.71, 0.60, 'Cs', 'Cl'),
    (0.59, 0.62, 'Rb', 'Cl'), (0.54, 0.66, 'Rb', 'Cl'), (-0.87, 0.47, 'K', 'Cl'), (-0.84, 0.27, 'K', 'Br'),
    (-0.72, 0.36, 'K', 'Br'), (-0.69, 0.33, 'Cs', 'Br'), (-0.62, 0.27, 'Rb', 'Br'), (-0.61, 0.18, 'K', 'I'),
    (-0.58, 0.19, 'Rb', 'I'), (-0.48, 0.16, 'K', 'I'), (-0.46, 0.36, 'Cs', 'I'), (-0.51, 0.37, 'Rb', 'Br'),
    (-0.50, 0.63, 'Cs', 'Cl'), (-0.41, 0.51, 'FA', 'I'), (-0.36, 0.17, 'K', 'I'), (-0.33, 0.02, 'Cs', 'I'),
    (-0.32, 0.27, 'Cs', 'Br'), (-0.40, 0.32, 'K', 'Br'), (-0.25, 0.29, 'Rb', 'Br'), (-0.36, 0.73, 'FA', 'Br'),
    (-0.25, 0.60, 'FA', 'Br'), (-0.31, 0.45, 'MA', 'Br'), (-0.23, 0.13, 'MA', 'I'), (-0.16, 0.05, 'K', 'Br'),
    (-0.13, -0.04, 'FA', 'I'), (-0.18, 0.11, 'FA', 'I'), (-0.18, 1.19, 'MA', 'Cl'), (-0.21, 0.89, 'FA', 'Cl'),
    (-0.12, 1.04, 'FA', 'Cl'), (-0.13, 0.79, 'MA', 'Br'), (-0.08, 0.85, 'FA', 'Br'), (-0.08, 0.96, 'FA', 'Br'),
    (-0.04, 0.57, 'MA', 'I'), (0.01, 0.44, 'Cs', 'I'), (-0.02, 0.32, 'FA', 'I'), (0.03, 0.14, 'Cs', 'I'),
    (-0.05, 0.21, 'MA', 'I'), (0.07, 0.22, 'K', 'I'), (0.07, 1.05, 'MA', 'Cl'), (0.02, 1.31, 'FA', 'Cl'),
    (0.07, 1.50, 'FA', 'Cl'), (0.03, 1.17, 'FA', 'Br'), (0.14, 1.25, 'FA', 'Br'), (0.12, 1.44, 'MA', 'Cl'),
    (0.20, 1.44, 'MA', 'Cl'), (0.18, 1.33, 'Cs', 'Cl'), (0.26, 1.44, 'MA', 'Cl'), (0.29, 1.27, 'MA', 'Cl'),
    (0.31, 1.17, 'MA', 'Cl'), (0.12, 0.95, 'Rb', 'I'), (0.18, 1.00, 'Rb', 'Br'), (0.15, 1.06, 'Cs', 'Br'),
    (0.36, 0.96, 'Cs', 'Br'), (0.40, 0.99, 'FA', 'Br'), (0.45, 0.91, 'MA', 'Br'), (0.28, 1.00, 'MA', 'Br'),
    (0.33, 0.79, 'FA', 'I'), (0.23, 0.75, 'MA', 'Br'), (0.17, 0.84, 'Rb', 'I'), (0.30, 0.84, 'K', 'Br'),
    (0.41, 0.75, 'Rb', 'Cl'), (0.37, 0.67, 'K', 'Br'), (0.31, 0.63, 'Rb', 'Br'), (0.12, 0.75, 'Cs', 'I'),
    (0.08, 0.67, 'K', 'Br'), (0.02, 0.83, 'MA', 'Br'), (0.23, 0.51, 'FA', 'I'), (0.19, 0.40, 'Cs', 'Br'),
    (0.15, 0.36, 'K', 'I'), (0.27, 0.24, 'Rb', 'Br'), (0.36, 0.30, 'Cs', 'Br'), (0.23, 0.13, 'Rb', 'I'),
    (0.41, 0.08, 'K', 'Cl'), (0.21, 0.08, 'K', 'I'), (0.13, 0.00, 'Cs', 'Cl'), (0.21, -0.01, 'Rb', 'I'),
    (0.36, -0.12, 'K', 'Br'), (0.21, -0.17, 'Cs', 'Br'), (0.27, -0.17, 'K', 'I'), (0.19, -0.27, 'Cs', 'I'),
    (0.31, 0.12, 'Rb', 'Br'), (-0.22, 0.69, 'Cs', 'I'), (-0.05, 0.49, 'FA', 'Cl'), (0.05, 0.41, 'Cs', 'Cl'),
    (0.15, 0.32, 'K', 'Cl'), (-0.25, 0.81, 'Rb', 'Cl'), (0.48, 0.53, 'Cs', 'Br'), (0.00, 0.66, 'Rb', 'I'),
    (-0.18, 0.64, 'FA', 'I'), (-0.12, 0.58, 'MA', 'I'), (-0.12, 0.39, 'K', 'I'), (-0.31, 0.96, 'FA', 'Cl'),
    (0.05, 1.12, 'Cs', 'I'),
]

fits = ['y = 0.99x + 0.08\nR² = 0.97', 'y = 1.01x – 0.17\nR² = 0.99',
        'y = 1.06x + 0.06\nR² = 0.99', 'y = 1.07x + 0.77\nR² = 0.94']

caption = ['Defect  computed  properties  for  dataset  of  229  perovskite  compounds',
           'pounds:  Equilibrium  D.F.E.  vs  E$_{F}$/E$_{gap}$  plots  are  shown  for  (a)  halide-',
           'rich,  (b)  medium  halide,  and  (c)  B-rich  chemical  potential  conditions']

# ---------------------------------------------------------------- style
cat_color = {'K': '#ff2b2b', 'Rb': '#2b2bff', 'Cs': '#2a8c2a', 'MA': '#c62fc6', 'FA': '#ffab24'}
hal_marker = {'I': 'o', 'Br': 's', 'Cl': '^'}

W, H = 1386, 740
fig = plt.figure(figsize=(W / 100, H / 100), dpi=100)


def add_ax(l, t, r, b):
    return fig.add_axes([l / W, 1 - b / H, (r - l) / W, (b - t) / H])


def scatter(ax, pts, s=40):
    for cat in cations:
        for hal in halides:
            sel = [(p[0], p[1]) for p in pts if p[2] == cat and p[3] == hal]
            if not sel:
                continue
            xs, ys = zip(*sel)
            ax.scatter(xs, ys, s=s if hal != 'Br' else s * 0.9, c=cat_color[cat], marker=hal_marker[hal],
                       edgecolors='#8a8a8a', linewidths=0.9, alpha=0.88, zorder=3)


def cat_handles(ms=7):
    return [Line2D([], [], ls='', marker='o', ms=ms, mfc=cat_color[c], mec='#8a8a8a', alpha=0.88)
            for c in cations]


def hal_handles(ms=7):
    return [Line2D([], [], ls='', marker=hal_marker[h], ms=ms, mfc='#3a3a3a', mec='#7a7a7a')
            for h in halides]


def style(ax, fs=11):
    for sp in ax.spines.values():
        sp.set_color('#222222')
        sp.set_linewidth(1.2)
    ax.tick_params(length=0, pad=4, labelsize=fs)


def left_panel(ax, pts, lim, ticks, title, label, lab_xy, s=38, title_pad=8.5, fmt=None):
    scatter(ax, pts, s=s)
    ax.set_xlim(lim[0], lim[1])
    ax.set_ylim(lim[2], lim[3])
    ax.set_xticks(ticks)
    ax.set_yticks(ticks)
    if fmt:
        ax.set_xticklabels([fmt.format(t) for t in ticks])
        ax.set_yticklabels([fmt.format(t) for t in ticks])
    style(ax, 11)
    ax.set_title(title, fontsize=12.7, pad=title_pad)
    ax.set_xlabel('PBE Computed', fontsize=12.7, labelpad=3)
    ax.set_ylabel('HSE Computed', fontsize=12.7, labelpad=3)
    fig.text(lab_xy[0] / W, 1 - lab_xy[1] / H, label, fontsize=13.5, ha='center', va='center')


def leg_cat(ax, loc, ncol=1, fs=6.5):
    lg = ax.legend(cat_handles(), cations, loc=loc, ncol=ncol, fontsize=fs, handlelength=1.0,
                   handletextpad=1.6, labelspacing=0.75, borderpad=0.9, borderaxespad=0.6,
                   columnspacing=2.0, framealpha=1, fancybox=True)
    lg.set_zorder(5)
    ax.add_artist(lg)
    return lg


def leg_hal(ax, loc, fs=6.5):
    lg = ax.legend(hal_handles(), halides, loc=loc, fontsize=fs, handlelength=1.0, handletextpad=1.6,
                   labelspacing=0.75, borderpad=0.8, borderaxespad=0.6, framealpha=1, fancybox=True)
    lg.set_zorder(5)
    ax.add_artist(lg)
    return lg


def diag(ax):
    ax.axline((0, 0), slope=1, color='#b0b0b0', ls='--', lw=0.8, zorder=1)


# ---------------------------------------------------------------- left block
ax = add_ax(70, 43, 312, 193)
diag(ax)
left_panel(ax, lattice, (5.0, 7.0, 5.0, 7.0), [5.2, 5.6, 6.0, 6.4, 6.8],
           r'Lattice Constant ($\mathit{Å}$)', '(a)', (26, 27), s=34, title_pad=5)
leg_cat(ax, 'upper left')
leg_hal(ax, 'lower right')
ax.text(0.56, 0.15, fits[0], transform=ax.transAxes, ha='center', va='center', fontsize=8.7,
        linespacing=1.2, zorder=6)

ax = add_ax(421, 43, 657, 193)
ax.fill_between([-2.0, 0.5], -2.0, 0.5, color='#9c9c9c', lw=0, zorder=0)
ax.axvline(0.5, color='k', ls='--', lw=1.1, zorder=2)
ax.axhline(0.5, color='k', ls='--', lw=1.1, zorder=2)
diag(ax)
left_panel(ax, decomp, (-2.0, 4.0, -1.95, 4.0), [-1.5, 0.0, 1.5, 3.0],
           'Decomposition Energy (eV)', '(b)', (369, 27), s=38, fmt='{:.1f}')
leg_cat(ax, 'upper left')
leg_hal(ax, 'lower right')
ax.text(0.50, 0.17, fits[1], transform=ax.transAxes, ha='center', va='center', fontsize=8.7,
        linespacing=1.2, zorder=6,
        bbox=dict(boxstyle='square,pad=0.45', fc='white', ec='none'))

ax = add_ax(86, 295, 312, 443)
diag(ax)
left_panel(ax, mixing, (-0.2, 0.35, -0.2, 0.35), [-0.15, 0.0, 0.15, 0.30],
           'Mixing Energy (eV)', '(c)', (25, 275), s=38, fmt='{:.2f}')
leg_cat(ax, 'upper left')
leg_hal(ax, 'lower right', fs=6)

ax = add_ax(421, 295, 657, 443)
diag(ax)
left_panel(ax, formation, (-13.0, -3.2, -12.9, -3.1), [-12, -10, -8, -6, -4],
           'Formation Energy (eV)', '(d)', (369, 275), s=38)
leg_cat(ax, 'upper left')
leg_hal(ax, 'lower right')
ax.text(0.48, 0.86, fits[2], transform=ax.transAxes, ha='center', va='center', fontsize=8.7,
        linespacing=1.2, zorder=6)

ax = add_ax(58, 543, 312, 694)
ax.fill_between([0.0, 2.5], 0.1, 3.5, color='#9c9c9c', lw=0, zorder=0)
ax.axvline(2.5, color='k', ls='--', lw=1.1, zorder=2)
ax.axhline(3.5, color='k', ls='--', lw=1.1, zorder=2)
diag(ax)
left_panel(ax, bandgap, (0.0, 7.5, 0.12, 7.6), [1, 3, 5, 7],
           'Band Gap (eV)', '(e)', (21, 525), s=40)
leg_hal(ax, 'upper left')
leg_cat(ax, 'lower right', ncol=2)
ax.text(0.795, 0.64, fits[3], transform=ax.transAxes, ha='center', va='center', fontsize=8.7,
        linespacing=1.2, zorder=6)

ax = add_ax(395, 527, 657, 695)
scatter(ax, refractive, s=48)
ax.set_xlim(1.22, 3.24)
ax.set_ylim(2.72, 6.32)
ax.set_xticks([1.5, 2.0, 2.5, 3.0])
ax.set_yticks([3, 4, 5, 6])
style(ax, 11)
ax.set_xlabel('Refractive Index', fontsize=11.2, labelpad=3)
ax.set_ylabel('Figure of Merit (log$_{10}$ cm$^{-1}$)', fontsize=9.6, labelpad=3)
leg_hal(ax, 'upper left')
leg_cat(ax, 'lower right')
ax.text(0.565, 0.27, '(f)', transform=ax.transAxes, ha='center', va='center', fontsize=14)


# ---------------------------------------------------------------- right block
def right_panel(ax, pts, xlim, ylim, xticks, yticks, title, label, lab_xy, cut=None):
    ax.set_xlim(*xlim)
    ax.set_ylim(*ylim)
    if cut is not None:
        xs = [xlim[0], xlim[1]]
        ax.fill_between(xs, [cut - x for x in xs], ylim[1], color='#7f7f7f', lw=0, zorder=0)
        ax.axline((0, cut), slope=-1, color='k', ls='--', lw=1.2, zorder=2)
        for v in (0, 1):
            ax.axhline(v, color='#cfcfcf', ls=':', lw=0.9, zorder=1)
            ax.axvline(v, color='#cfcfcf', ls=':', lw=0.9, zorder=1)
    scatter(ax, pts, s=50)
    ax.set_xticks(xticks)
    ax.set_yticks(yticks)
    for sp in ax.spines.values():
        sp.set_color('#111111')
        sp.set_linewidth(1.2)
    ax.tick_params(length=0, pad=4, labelsize=9.6)
    ax.set_title(title, fontsize=11.6, pad=23)
    fig.text(lab_xy[0] / W, 1 - lab_xy[1] / H, label, fontsize=13.5, ha='center', va='center')
    top = ax.legend(cat_handles(6), cations, loc='lower left', bbox_to_anchor=(0, 1.032, 1, 0.06),
                    mode='expand', ncol=5, fontsize=5.5, handlelength=1.0, handletextpad=1.8,
                    borderpad=0.35, borderaxespad=0, framealpha=1, fancybox=False)
    top.get_frame().set_edgecolor('#cccccc')
    ax.add_artist(top)
    lg = ax.legend(hal_handles(6.5), halides, loc='upper left', fontsize=5.8, handlelength=1.0,
                   handletextpad=1.4, labelspacing=0.45, borderpad=0.5, borderaxespad=0.4,
                   framealpha=1)
    lg.set_zorder(5)


ax = add_ax(780, 53, 1031, 267)
right_panel(ax, xrich, (-4.53, 1.5), (-1.68, 2.32), [-4, -3, -2, -1, 0, 1], [-1, 0, 1, 2],
            'X-rich Chem. Pot. Conditions', '(a)', (749, 17), cut=1.03)
ax.set_xlabel('Eqm. Fermi Level (frac. of gap)', fontsize=10, labelpad=5)
ax.set_ylabel('Eqm. Defect Formation Energy (eV)', fontsize=8, labelpad=6)

ax = add_ax(1132, 53, 1383, 267)
right_panel(ax, medx, (-3.7, 1.5), (-2.2, 2.32), [-3, -2, -1, 0, 1], [-2, -1, 0, 1, 2],
            'Med. X Chem. Pot. Conditions', '(b)', (1100, 18), cut=1.01)
ax.set_xlabel('Eqm. Fermi Level (frac. of gap)', fontsize=10, labelpad=5)
ax.set_ylabel('Eqm. Defect Formation Energy (eV)', fontsize=8, labelpad=6)

ax = add_ax(780, 388, 1031, 602)
right_panel(ax, brich, (-3.38, 1.66), (-2.73, 2.33), [-3, -2, -1, 0, 1], [-2, -1, 0, 1, 2],
            'B-rich Chem. Pot. Conditions', '(c)', (748, 351), cut=1.08)
ax.set_xlabel('Eqm. Fermi Level (frac. of gap)', fontsize=10, labelpad=5)
ax.set_ylabel('Eqm. Defect Formation Energy (eV)', fontsize=8, labelpad=6)

ax = add_ax(1145, 387, 1383, 600)
ax.fill_between([-1.19, 0.48], -0.48, 0.5, color='#9c9c9c', lw=0, zorder=0)
ax.axvline(0.48, color='k', ls='--', lw=1.1, zorder=2)
ax.axhline(0.5, color='k', ls='--', lw=1.1, zorder=2)
right_panel(ax, vacancy, (-1.19, 1.17), (-0.48, 2.21), [-1.0, -0.4, 0.2, 0.8], [-0.4, 0.2, 0.8, 1.4, 2.0],
            'Vacancy Defect Levels (eV)', '(d)', (1101, 348))
ax.set_xlabel('V$_{A}$ (0/-1) Transition Level (from VBM)', fontsize=10, labelpad=4)
ax.set_ylabel('V$_{X}$ (+1/0) Transition Level (from CBM)', fontsize=10, labelpad=4)

# ---------------------------------------------------------------- caption
fig.text(719 / W, 1 - 697 / H, 'Fig. 6', fontsize=14.3, fontweight='bold', va='baseline')
fig.text(781 / W, 1 - 697 / H, caption[0], fontsize=14.3, va='baseline')
fig.text(719 / W, 1 - 724 / H, caption[1], fontsize=14.3, va='baseline')
fig.text(719 / W, 1 - 751 / H, caption[2], fontsize=14.3, va='baseline')

fig.savefig('out.png', dpi=100)
